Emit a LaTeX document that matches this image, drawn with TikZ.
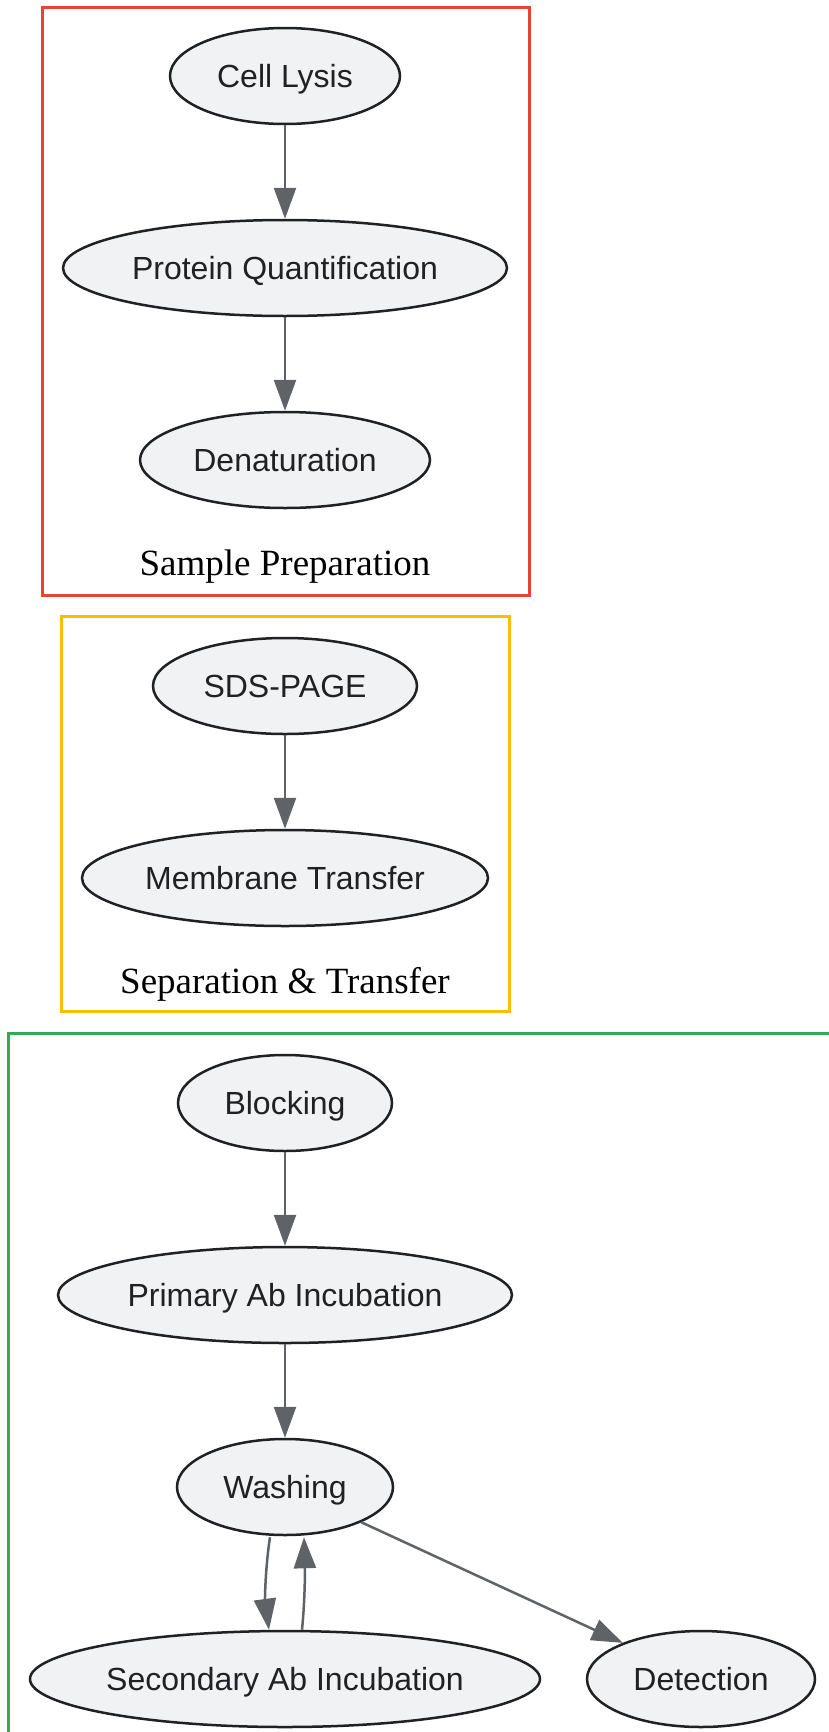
\documentclass[tikz,border=0pt]{standalone}
\usepackage{fontspec}
\setmainfont{Liberation Serif}
\setsansfont{Liberation Sans}
\usetikzlibrary{shapes.geometric,arrows.meta}
\definecolor{nodefill}{HTML}{F1F2F4}
\definecolor{nodeline}{HTML}{202124}
\definecolor{edgecol}{HTML}{5F6368}
\definecolor{redbox}{HTML}{EA4335}
\definecolor{orangebox}{HTML}{FBBC04}
\definecolor{greenbox}{HTML}{34A853}
\tikzset{
  stepnode/.style={ellipse, draw=nodeline, line width=2.5pt, fill=nodefill, inner sep=0pt,
    minimum height=96pt, text height=23pt, text depth=0pt, text=nodeline,
    font=\sffamily\fontsize{32}{38}\selectfont},
  flow/.style={draw=edgecol, line width=2.5pt, -{Triangle[length=31pt,width=22pt]}},
  cluster/.style={line width=3pt},
  clusterlabel/.style={font=\fontsize{37}{44}\selectfont, text=black}
}
\begin{document}
\begin{tikzpicture}[x=1pt,y=-1pt]
\useasboundingbox (0,0) rectangle (829,1732);
\clip (0,0) rectangle (829,1732);
\fill[white] (0,0) rectangle (829,1732);
% clusters
\draw[cluster, redbox] (42,7) rectangle (529,595);
\draw[cluster, orangebox] (61,616) rectangle (509,1011);
\draw[cluster, greenbox] (8,1033) rectangle (860,1770);
\node[clusterlabel] (lab1) at (285,567) {Sample Preparation};
\node[clusterlabel] (lab2) at (285,984) {Separation \& Transfer};
% nodes
\node[stepnode, minimum width=230pt] (cl) at (285,76) {Cell Lysis};
\node[stepnode, minimum width=444pt] (pq) at (285,268) {Protein Quantification};
\node[stepnode, minimum width=290pt] (den) at (285,460) {Denaturation};
\node[stepnode, minimum width=264pt] (sds) at (285,686) {SDS-PAGE};
\node[stepnode, minimum width=406pt] (mem) at (285,878) {Membrane Transfer};
\node[stepnode, minimum width=214pt] (blk) at (285,1103) {Blocking};
\node[stepnode, minimum width=454pt] (pri) at (285,1295) {Primary Ab Incubation};
\node[stepnode, minimum width=216pt] (wash) at (285,1487) {Washing};
\node[stepnode, minimum width=510pt] (sec) at (285,1679) {Secondary Ab Incubation};
\node[stepnode, minimum width=228pt] (det) at (701,1679) {Detection};
% edges
\draw[flow] (cl) -- (pq);
\draw[flow] (pq) -- (den);
\draw[flow] (sds) -- (mem);
\draw[flow] (blk) -- (pri);
\draw[flow] (pri) -- (wash);
\draw[flow] ([xshift=-15pt,yshift=-1pt]wash.south) .. controls ([xshift=-20pt]wash.south |- 0,1570) and ([xshift=-20pt]wash.south |- 0,1600) .. ([xshift=-16pt]sec.north);
\draw[flow] ([xshift=17pt]sec.north) .. controls ([xshift=20pt]sec.north |- 0,1600) and ([xshift=20pt]sec.north |- 0,1570) .. ([xshift=19pt,yshift=-1pt]wash.south);
\draw[flow] (wash) -- (det);
\end{tikzpicture}
\end{document}
